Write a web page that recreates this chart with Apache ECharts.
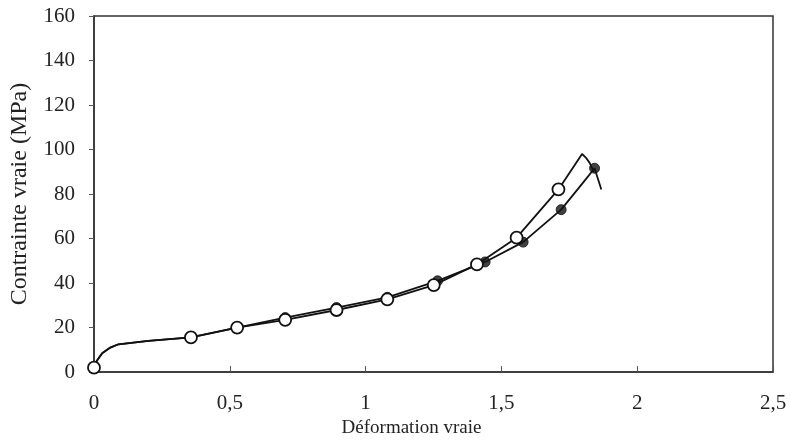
<!DOCTYPE html>
<html>
<head>
<meta charset="utf-8">
<script src="https://cdn.jsdelivr.net/npm/echarts@6/dist/echarts.min.js"></script>
<style>html,body{margin:0;padding:0;background:#fff}#c{width:791px;height:443px}</style>
</head>
<body>
<div id="c"></div>
<script>
// Curve A (open circles) : [strain, stress]
const curveOpen = [[0,2],[0.01,5],[0.03,8.5],[0.06,11],[0.09,12.5],[0.2,14],[0.357,15.6],[0.527,20],[0.704,23.5],[0.893,27.9],[1.08,32.7],[1.251,39.1],[1.41,48.4],[1.556,60.4],[1.71,82.1],[1.797,98],[1.81,96.5],[1.825,94],[1.84,90]];
const markersOpen = [[0,2],[0.357,15.6],[0.527,20],[0.704,23.5],[0.893,27.9],[1.08,32.7],[1.251,39.1],[1.41,48.4],[1.556,60.4],[1.71,82.1]];
// Curve B (filled circles)
const curveFilled = [[0,2],[0.01,5],[0.03,8.5],[0.06,11],[0.09,12.5],[0.2,14],[0.357,15.6],[0.527,20],[0.704,24.5],[0.893,29],[1.08,33.6],[1.265,41],[1.44,49.5],[1.58,58.4],[1.72,73],[1.8,85],[1.843,91.6],[1.855,87],[1.868,82]];
const markersFilled = [[0.704,24.5],[0.893,29],[1.08,33.6],[1.265,41],[1.44,49.5],[1.58,58.4],[1.72,73],[1.843,91.6]];
const xTickLabels = {0:'0',0.5:'0,5',1:'1',1.5:'1,5',2:'2',2.5:'2,5'};
const yTicks = [0,20,40,60,80,100,120,140,160];

const font = 'Liberation Serif';
const chart = echarts.init(document.getElementById('c'));
chart.setOption({
  backgroundColor:'#fff',
  animation:false,
  grid:{left:93,right:18,top:16,bottom:69,show:true,borderColor:'#333',borderWidth:1.5},
  xAxis:{type:'value',min:0,max:2.5,interval:0.5,
    name:'Déformation vraie',nameLocation:'middle',nameGap:43,
    nameTextStyle:{fontFamily:font,fontSize:19,color:'#222',padding:[0,44,0,0]},
    axisLine:{lineStyle:{color:'#333',width:1.5}},
    axisTick:{inside:true,length:6,lineStyle:{color:'#555'}},
    axisLabel:{fontFamily:font,fontSize:21,color:'#222',margin:21,
      formatter:v=>xTickLabels[v]!==undefined?xTickLabels[v]:''},
    splitLine:{show:false}},
  yAxis:{type:'value',min:0,max:160,interval:20,
    name:'Contrainte vraie (MPa)',nameLocation:'middle',nameGap:62,
    nameTextStyle:{fontFamily:font,fontSize:24,color:'#222'},
    axisLine:{show:true,lineStyle:{color:'#333',width:1.5}},
    axisTick:{show:true,inside:false,length:5,lineStyle:{color:'#555'}},
    axisLabel:{fontFamily:font,fontSize:21,color:'#222',margin:19,
      formatter:v=>yTicks.includes(v)?String(v):''},
    splitLine:{show:false}},
  series:[
    {type:'line',data:curveFilled,showSymbol:false,symbol:'none',lineStyle:{color:'#111',width:1.8},z:2},
    {type:'line',data:curveOpen,showSymbol:false,symbol:'none',lineStyle:{color:'#111',width:1.8},z:2},
    {type:'scatter',data:markersFilled,symbol:'circle',symbolSize:10,itemStyle:{color:'#111',borderColor:'#111',borderWidth:1},z:3},
    {type:'scatter',data:markersOpen,symbol:'circle',symbolSize:12,itemStyle:{color:'#fff',borderColor:'#111',borderWidth:1.8,opacity:1},z:4}
  ]
});
</script>
</body>
</html>
